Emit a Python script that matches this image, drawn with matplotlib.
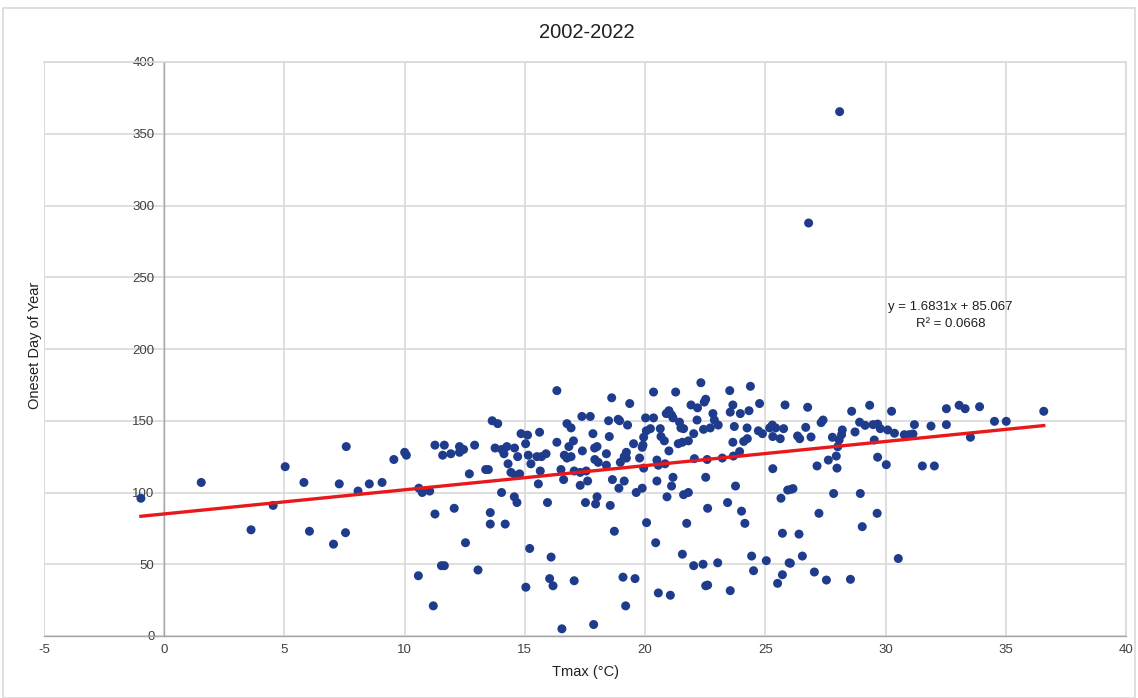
"""Onset day of year vs Tmax, 2002-2022 scatter with linear trend (Excel style)."""

import numpy as np
import matplotlib
matplotlib.use("Agg")
import matplotlib.pyplot as plt
from matplotlib.patches import Rectangle

plt.rcParams["font.family"] = ["Liberation Sans Narrow", "Liberation Sans", "DejaVu Sans"]
plt.rcParams["axes.unicode_minus"] = False

# --- data ------------------------------------------------------------------
tmax = [
    -0.97, 1.54, 3.61, 4.53, 5.03, 5.81, 6.04, 7.04, 7.28, 7.57, 7.54, 8.06, 8.53, 9.06, 9.55, 10.07, 10.0,
    16.33, 13.64, 13.87, 11.26, 11.65, 11.58, 11.92, 12.28, 12.45, 12.28, 12.91, 12.69, 13.37, 13.48,
    13.76, 14.04, 14.13, 14.25, 14.57, 14.70, 14.30, 14.42, 14.61, 14.78, 14.84, 15.11, 15.03, 15.14,
    15.25, 15.61, 15.50, 15.69, 15.88, 15.64, 15.56, 16.33, 16.75, 16.92, 17.02, 16.83, 17.37, 17.72,
    17.83, 17.39, 17.90, 18.00, 17.91, 16.64, 16.75, 16.92, 16.50, 16.61, 17.05, 17.30, 17.55, 17.30,
    17.61, 18.00, 17.94, 17.52, 15.94, 14.56, 14.67, 14.03, 10.59, 10.73, 11.04, 11.26, 12.06, 13.56,
    13.56, 14.18, 12.53, 11.53, 11.65, 10.57, 13.05, 11.19, 15.20, 15.04, 16.09, 16.03, 16.17, 17.05,
    16.54, 17.86,
    18.61, 19.36, 18.48, 18.88, 18.94, 19.27, 18.51, 18.05, 18.39, 18.39, 19.52, 19.22, 19.13, 19.22,
    18.97, 19.77, 19.94, 18.64, 18.91, 19.13, 18.55, 19.63, 19.88, 18.72, 20.06, 20.44, 19.08, 19.58,
    19.19, 20.35, 21.27, 22.32, 22.52, 22.46, 23.52, 24.38, 24.76, 25.82, 20.02, 20.35, 20.99, 21.10,
    21.16, 20.88, 21.91, 22.18, 21.43, 21.49, 21.60, 22.16, 22.82, 22.88, 22.71, 22.43, 23.04, 23.54,
    23.65, 23.96, 24.32, 23.71, 24.24, 24.71, 24.88, 25.29, 25.43, 25.76, 25.31, 25.62, 20.05, 19.94,
    20.22, 20.63, 20.66, 20.80, 19.91, 19.88, 20.99, 21.38, 21.55, 21.80, 22.02, 20.49, 20.55, 20.83,
    22.05, 22.58, 23.21, 20.49, 21.10, 21.16, 20.91, 21.60, 21.80, 22.52, 23.76, 22.60, 23.43, 24.01,
    24.15, 25.31, 25.65, 25.93, 25.71, 21.73, 21.55, 22.02, 22.41, 23.02, 22.52, 22.60, 23.54, 24.43,
    24.51, 25.04, 25.71, 25.51, 20.55, 21.05, 25.99,
    26.76, 28.59, 29.34, 30.25, 32.53, 33.06, 33.31, 33.91, 26.34, 26.43, 26.68, 26.90, 27.32, 27.40,
    27.79, 28.01, 28.07, 28.17, 28.20, 28.73, 28.92, 29.15, 29.48, 29.67, 29.78, 29.53, 30.09, 30.37,
    30.78, 30.98, 31.14, 31.20, 31.89, 32.53, 33.53, 27.15, 27.62, 27.95, 27.98, 29.67, 30.03, 31.53,
    32.03, 26.07, 26.15, 27.84, 28.95, 27.23, 29.65, 29.03, 26.40, 26.54, 26.04, 27.04, 27.54, 28.54,
    30.53, 34.53, 35.02, 36.58, 28.09, 26.80,
    23.65, 23.93, 24.10, 24.25, 25.18, 23.67,
]
onset_doy = [
    96, 107, 74, 91, 118, 107, 73, 64, 106, 132, 72, 101, 106, 107, 123, 126, 128,
    171, 150, 148, 133, 133, 126, 127, 132, 130, 128, 133, 113, 116, 116,
    131, 130, 127, 132, 131, 125, 120, 114, 112, 113, 141, 140, 134, 126,
    120, 142, 125, 125, 127, 115, 106, 135, 148, 145, 136, 132, 153, 153,
    141, 129, 131, 132, 123, 126, 124, 125, 116, 109, 115, 114, 115, 105,
    108, 97, 92, 93, 93, 97, 93, 100, 103, 100, 101, 85, 89, 86,
    78, 78, 65, 49, 49, 42, 46, 21, 61, 34, 55, 40, 35, 38.5,
    5, 8,
    166, 162, 150, 151, 150, 147, 139, 121, 127, 119, 134, 128, 125, 124,
    121, 124, 117, 109, 103, 108, 91, 100, 103, 73, 79, 65, 41, 40,
    21, 170, 170, 176.5, 165, 163, 171, 174, 162, 161, 152, 152, 157, 154,
    152, 155, 161, 159, 149, 145, 144.5, 150.5, 155, 150.5, 145, 144, 147, 156,
    161, 155, 157, 146, 145, 143, 141, 147, 145, 144.5, 139, 137.5, 143, 138.5,
    144.5, 144.5, 139, 136, 133, 131.5, 129, 134, 135, 136, 141, 122.6, 119, 120,
    123.6, 123, 124, 108, 104.5, 110.6, 97, 98.5, 100, 110.6, 104.5, 89, 93, 87,
    78.5, 116.6, 96, 101.7, 71.6, 78.5, 57, 49, 50, 51, 35, 35.5, 31.6, 55.7,
    45.5, 52.5, 42.7, 36.7, 30, 28.4, 51,
    159.4, 156.6, 160.8, 156.6, 158.4, 160.8, 158.4, 159.8, 139.4, 137.5, 145.4, 138.7, 148.7, 150.5,
    138.5, 131.9, 136.6, 140.3, 143.6, 142.2, 149, 146.8, 147.3, 147.7, 144.5, 136.6, 143.6, 141.3,
    140.3, 140.3, 140.8, 147.3, 146.3, 147.3, 138.5, 118.5, 122.6, 125.4, 117, 124.6, 119.4, 118.5,
    118.5, 102.2, 102.7, 99.3, 99.3, 85.5, 85.5, 76.2, 71, 55.7, 50.7, 44.6, 39, 39.5,
    54, 149.6, 149.6, 156.6, 365.4, 287.8,
    135, 128.5, 135.6, 137.5, 145, 125.4,
]

# trend line as printed on the chart
slope, intercept, r2 = 1.6831, 85.067, 0.0668

x_ticks = list(range(-5, 41, 5))
y_ticks = list(range(0, 401, 50))

tmax = np.array(tmax)
onset_doy = np.array(onset_doy)

fig = plt.figure(figsize=(11.38, 6.98), dpi=100)
ax = fig.add_axes([44 / 1138, 1 - 636 / 698, (1126 - 44) / 1138, (636 - 62) / 698])

grid_c = "#d9d9d9"
ax.set_xlim(-5, 40)
ax.set_ylim(0, 400)
ax.set_xticks(x_ticks)
ax.set_yticks(y_ticks)
ax.grid(True, color=grid_c, linewidth=1.2)
ax.set_axisbelow(True)

for side in ("top", "right"):
    ax.spines[side].set_color(grid_c)
    ax.spines[side].set_linewidth(1.2)
ax.spines["left"].set_position(("data", 0))
ax.spines["left"].set_color("#a6a6a6")
ax.spines["bottom"].set_color("#a6a6a6")
ax.spines["left"].set_linewidth(1.0)
ax.spines["bottom"].set_linewidth(1.0)
# left edge of plot area (x = -5) drawn as a grid line
ax.axvline(-5, color=grid_c, linewidth=1.2, zorder=0)

ax.tick_params(axis="both", length=0, labelsize=9.5, colors="#404040")
ax.tick_params(axis="x", pad=6)
ax.tick_params(axis="y", pad=7)

ax.scatter(tmax, onset_doy, s=42, color="#1f3b8c", edgecolors="none", zorder=3)

xs = np.array([tmax.min(), tmax.max()])
ax.plot(xs, slope * xs + intercept, color="#e8191b", linewidth=2.4, zorder=4)

ax.text(32.7, 229, f"y = {slope}x + {intercept}", ha="center", va="center",
        fontsize=9.5, color="#202020")
ax.text(32.7, 217.5, f"R² = {r2}", ha="center", va="center",
        fontsize=9.5, color="#202020")

fig.text(0.5155, 1 - 32 / 698, "2002-2022", ha="center", va="center",
         fontsize=14.5, color="#202020")
fig.text(585 / 1138, 1 - 672 / 698, "Tmax (°C)", ha="center", va="center",
         fontsize=10.5, color="#202020")
fig.text(35 / 1138, 1 - 345 / 698, "Oneset Day of Year", ha="center", va="center",
         rotation=90, fontsize=10.5, color="#202020")

# light chart border
fig.patches.append(Rectangle((3 / 1138, 0.0), 1 - 6 / 1138, 1 - 8 / 698,
                             transform=fig.transFigure, fill=False,
                             edgecolor="#d9d9d9", linewidth=1.2))

fig.savefig("out.png", dpi=100)
